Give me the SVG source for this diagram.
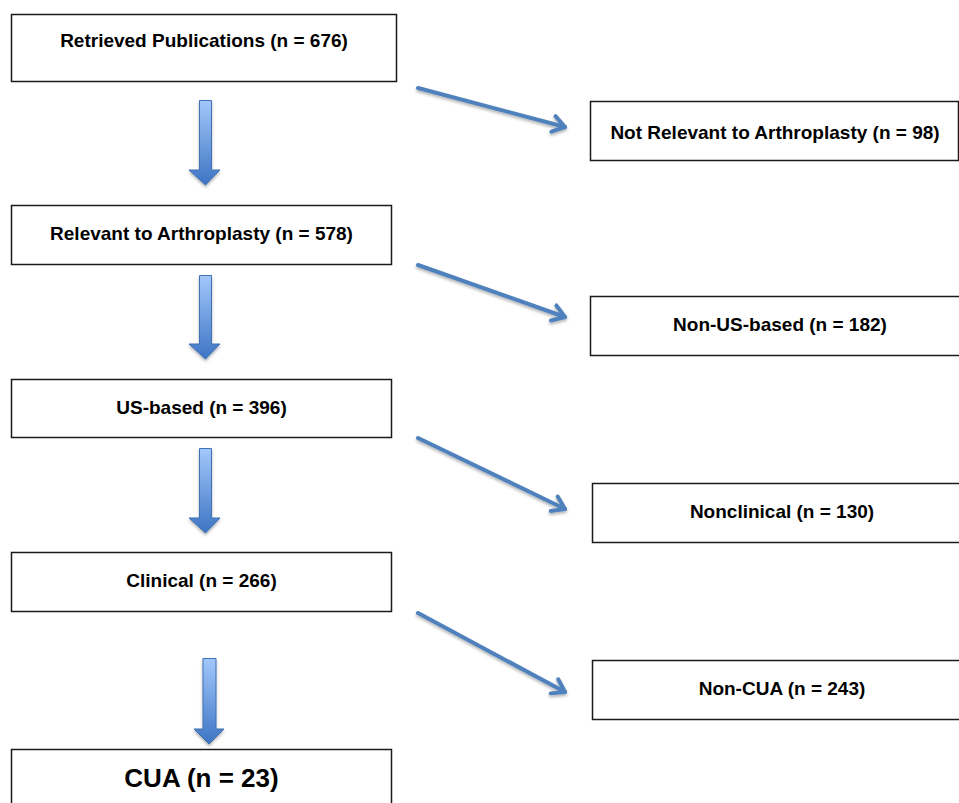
<svg xmlns="http://www.w3.org/2000/svg" width="959" height="803" viewBox="0 0 959 803">
<style>
.box{fill:#fff;stroke:#1a1a1a;stroke-width:1.5}
.t{font-family:"Liberation Sans",Arial,Helvetica,sans-serif;font-weight:bold;font-size:19px;fill:#000;text-anchor:middle}
.big{font-size:26px}
.dg{fill:none;stroke:#4f81bd;stroke-width:4;stroke-linecap:round}
.va{fill:url(#vg);stroke:#3f71b5;stroke-width:1}
</style>
<defs>
<linearGradient id="vg" x1="0" y1="0" x2="0" y2="1">
<stop offset="0" stop-color="#a3c8fb"/>
<stop offset="1" stop-color="#3d74c3"/>
</linearGradient>
<filter id="sh" x="-30%" y="-30%" width="160%" height="160%">
<feDropShadow dx="0" dy="2" stdDeviation="1.5" flood-color="#000" flood-opacity="0.3"/>
</filter>
<marker id="ah" markerUnits="userSpaceOnUse" markerWidth="24" markerHeight="24" refX="14" refY="10" orient="auto" viewBox="0 0 24 20">
<path d="M2,2 L14,10 L2,18" fill="none" stroke="#4f81bd" stroke-width="4" stroke-linecap="round" stroke-linejoin="round"/>
</marker>
</defs>
<rect width="959" height="803" fill="#fff"/>

<g id="n1"><rect class="box" x="11.5" y="14.5" width="385" height="67"/><text class="t" x="204" y="47">Retrieved Publications (n = 676)</text></g>
<g id="n2"><rect class="box" x="11.5" y="205.5" width="380" height="59"/><text class="t" x="201.5" y="240">Relevant to Arthroplasty (n = 578)</text></g>
<g id="n3"><rect class="box" x="11.5" y="379.5" width="380" height="58"/><text class="t" x="201.5" y="414">US-based (n = 396)</text></g>
<g id="n4"><rect class="box" x="11.5" y="552.5" width="380" height="59"/><text class="t" x="201.5" y="587">Clinical (n = 266)</text></g>
<g id="n5"><rect class="box" x="11.5" y="749.5" width="380" height="70"/><text class="t big" x="201.5" y="787">CUA (n = 23)</text></g>

<g id="r1"><rect class="box" x="590.5" y="101.5" width="368" height="59"/><text class="t" x="775" y="139">Not Relevant to Arthroplasty (n = 98)</text></g>
<g id="r2"><rect class="box" x="590.5" y="296.5" width="382" height="59"/><text class="t" x="780" y="331">Non-US-based (n = 182)</text></g>
<g id="r3"><rect class="box" x="592.5" y="483.5" width="380" height="59"/><text class="t" x="782" y="518">Nonclinical (n = 130)</text></g>
<g id="r4"><rect class="box" x="592.5" y="660.5" width="380" height="59"/><text class="t" x="782" y="695">Non-CUA (n = 243)</text></g>

<g id="connectors">
<g filter="url(#sh)">
<path class="va" d="M199.5,100.5 H211.5 V170 H220 L205.5,185 L189,170 H199.5 Z"/>
<path class="va" d="M199.5,275.5 H211.5 V344 H220 L205.5,359 L189,344 H199.5 Z"/>
<path class="va" d="M199.5,448.5 H211.5 V518 H220 L205.5,533 L189,518 H199.5 Z"/>
<path class="va" d="M203,658.5 H216 V729 H224 L209,744 L194,729 H203 Z"/>
<path class="dg" d="M418,88 L565,127" marker-end="url(#ah)"/>
<path class="dg" d="M418,265 L565,317" marker-end="url(#ah)"/>
<path class="dg" d="M418,438 L565,509" marker-end="url(#ah)"/>
<path class="dg" d="M418,613 L565,692" marker-end="url(#ah)"/>
</g>
</g>
</svg>
